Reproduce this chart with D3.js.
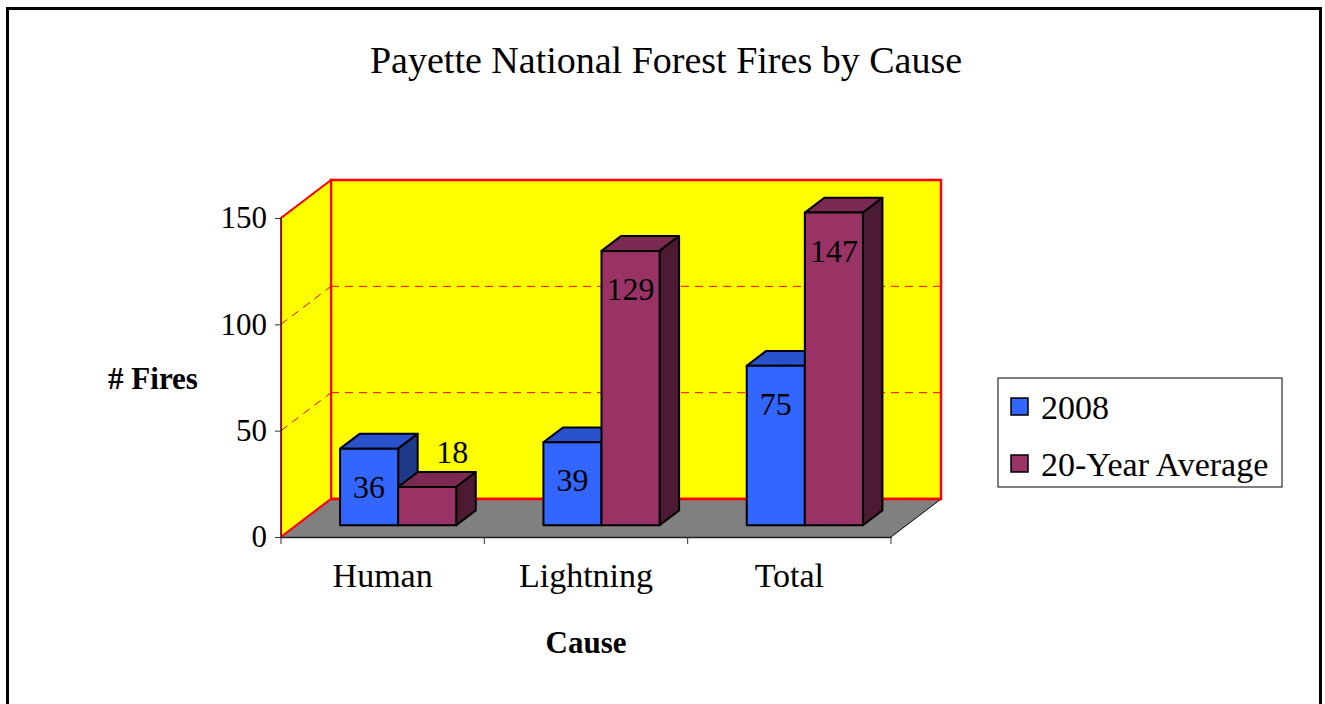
<!DOCTYPE html>
<html>
<head>
<meta charset="utf-8">
<script src="https://cdn.jsdelivr.net/npm/d3@7/dist/d3.min.js"></script>
<style>
  body { margin: 0; background: #fff; }
  text { font-family: "Liberation Serif", "DejaVu Serif", serif; fill: #000; }
</style>
</head>
<body>
<script>
const categories = ["Human", "Lightning", "Total"];
const seriesNames = ["2008", "20-Year Average"];
const values2008 = [36, 39, 75];
const valuesAvg = [18, 129, 147];
const yTicks = [0, 50, 100, 150];

const width = 1325;
const height = 704;

const colors = {
    "2008": { front: "#3366ff", top: "#2952cc", side: "#1f3a88" },
    "20-Year Average": { front: "#993366", top: "#7a2952", side: "#4d1a33" }
};

// depth of the plot box
const depthX = 50, depthY = -38;
const proj = (x, y, d) => [x + depthX * d, y + depthY * d];

const svg = d3.select("body").append("svg")
    .attr("width", width).attr("height", height);

// outer frame
svg.append("rect")
    .attr("x", 7.5).attr("y", 8.5).attr("width", 1313).attr("height", 710)
    .attr("fill", "none").attr("stroke", "#000").attr("stroke-width", 3);

const x = d3.scaleBand().domain(categories).range([281, 891]);
const y = d3.scaleLinear().domain([0, 150]).range([537, 218]);

const barW = x.bandwidth() / 3.5; // gap width 150%
const xs = d3.scaleBand().domain(seriesNames).range([0, 2 * barW]);

const x0 = x.range()[0], x1 = x.range()[1];
const yb = y(0), yt = y(150);
const line = d3.line();

// back wall
svg.append("path")
    .attr("d", line([proj(x0, yb, 1), proj(x1, yb, 1), proj(x1, yt, 1), proj(x0, yt, 1)]) + "Z")
    .attr("fill", "#ffff00").attr("stroke", "#ff0000").attr("stroke-width", 2.5);

// side wall
svg.append("path")
    .attr("d", line([[x0, yb], proj(x0, yb, 1), proj(x0, yt, 1), [x0, yt]]) + "Z")
    .attr("fill", "#ffff00").attr("stroke", "#ff0000").attr("stroke-width", 2);

// floor
svg.append("path")
    .attr("d", line([[x0, yb], [x1, yb], proj(x1, yb, 1), proj(x0, yb, 1)]) + "Z")
    .attr("fill", "#808080");
svg.append("path")
    .attr("d", line([[x1, yb], proj(x1, yb, 1)]))
    .attr("stroke", "#000").attr("stroke-width", 1);
svg.append("path")
    .attr("d", line([proj(x0, yb, 1), proj(x1, yb, 1)]))
    .attr("stroke", "#ff0000").attr("stroke-width", 2.5);
svg.append("path")
    .attr("d", line([[x0, yb], proj(x0, yb, 1)]))
    .attr("stroke", "#ff0000").attr("stroke-width", 2);

// gridlines
const grid = yTicks.filter(t => t > 0 && t < 150);
svg.selectAll(".gback").data(grid).enter().append("path")
    .attr("d", t => line([proj(x0, y(t), 1), proj(x1, y(t), 1)]))
    .attr("stroke", "#ff0000").attr("stroke-width", 1).attr("stroke-dasharray", "8,6");
svg.selectAll(".gside").data(grid).enter().append("path")
    .attr("d", t => line([[x0, y(t)], proj(x0, y(t), 1)]))
    .attr("stroke", "#ff0000").attr("stroke-width", 1).attr("stroke-dasharray", "8,6");

// axes
const yAxis = svg.append("g").attr("transform", `translate(${x0},0)`)
    .call(d3.axisLeft(y).tickValues(yTicks).tickSize(6).tickPadding(8));
yAxis.select(".domain").attr("stroke", "#333").attr("stroke-width", 1.2);
yAxis.selectAll(".tick line").attr("stroke", "#333");
yAxis.selectAll(".tick text")
    .style("font-family", '"Liberation Serif", serif').style("font-size", "31px").attr("fill", "#000");

const xAxis = svg.append("g").attr("transform", `translate(0,${yb})`)
    .call(d3.axisBottom(x).tickSize(0).tickPadding(26));
xAxis.select(".domain").attr("stroke", "#222").attr("stroke-width", 1.5);
xAxis.selectAll(".tick text")
    .style("font-family", '"Liberation Serif", serif').style("font-size", "34px").attr("fill", "#000");
// category boundary ticks
const bounds = categories.map(c => x(c)).concat([x1]);
svg.selectAll(".xtick").data(bounds).enter().append("line")
    .attr("x1", d => d).attr("x2", d => d)
    .attr("y1", yb).attr("y2", yb + 7)
    .attr("stroke", "#333").attr("stroke-width", 1);

// bars
const dFront = 0.31, dBack = 0.7;
const bars = [];
categories.forEach((c, i) => {
    seriesNames.forEach((s, j) => {
        const v = j === 0 ? values2008[i] : valuesAvg[i];
        bars.push({ cat: c, series: s, value: v });
    });
});

const barG = svg.selectAll(".bar").data(bars).enter().append("g");
const bx = d => x(d.cat) + 0.75 * barW + xs(d.series);

barG.append("path") // top
    .attr("d", d => {
        const l = bx(d), r = l + barW, t = y(d.value);
        return line([proj(l, t, dFront), proj(r, t, dFront), proj(r, t, dBack), proj(l, t, dBack)]) + "Z";
    })
    .attr("fill", d => colors[d.series].top)
    .attr("stroke", "#000").attr("stroke-width", 2).attr("stroke-linejoin", "round");
barG.append("path") // side
    .attr("d", d => {
        const r = bx(d) + barW, t = y(d.value);
        return line([proj(r, yb, dFront), proj(r, yb, dBack), proj(r, t, dBack), proj(r, t, dFront)]) + "Z";
    })
    .attr("fill", d => colors[d.series].side)
    .attr("stroke", "#000").attr("stroke-width", 2).attr("stroke-linejoin", "round");
barG.append("path") // front
    .attr("d", d => {
        const l = bx(d), r = l + barW, t = y(d.value);
        return line([proj(l, yb, dFront), proj(r, yb, dFront), proj(r, t, dFront), proj(l, t, dFront)]) + "Z";
    })
    .attr("fill", d => colors[d.series].front)
    .attr("stroke", "#000").attr("stroke-width", 2).attr("stroke-linejoin", "round");

// value labels
svg.selectAll(".vlabel").data(bars).enter().append("text")
    .attr("x", d => {
        const p = proj(bx(d) + barW / 2, y(d.value), dFront);
        return d.value < 30 ? p[0] + 25 : p[0];
    })
    .attr("y", d => {
        const p = proj(bx(d) + barW / 2, y(d.value), dFront);
        return d.value < 30 ? p[1] - 35 : p[1] + 38;
    })
    .attr("text-anchor", "middle").attr("dominant-baseline", "central")
    .style("font-size", "32px")
    .text(d => d.value);

// titles
svg.append("text")
    .attr("x", 666).attr("y", 60)
    .attr("text-anchor", "middle").attr("dominant-baseline", "central")
    .style("font-size", "38px")
    .text("Payette National Forest Fires by Cause");
svg.append("text")
    .attr("x", 153).attr("y", 378)
    .attr("text-anchor", "middle").attr("dominant-baseline", "central")
    .style("font-size", "31px").style("font-weight", "bold")
    .text("# Fires");
svg.append("text")
    .attr("x", 586).attr("y", 642)
    .attr("text-anchor", "middle").attr("dominant-baseline", "central")
    .style("font-size", "31px").style("font-weight", "bold")
    .text("Cause");

// legend
const legend = svg.append("g").attr("transform", "translate(998,378)");
legend.append("rect")
    .attr("width", 284).attr("height", 109)
    .attr("fill", "#fff").attr("stroke", "#000").attr("stroke-width", 1);
const li = legend.selectAll(".li").data(seriesNames).enter().append("g")
    .attr("transform", (d, i) => `translate(13,${20 + i * 57})`);
li.append("rect")
    .attr("width", 17).attr("height", 17)
    .attr("fill", d => colors[d].front).attr("stroke", "#000").attr("stroke-width", 1.5);
li.append("text")
    .attr("x", 30).attr("y", 9)
    .attr("dominant-baseline", "central")
    .style("font-size", "34px")
    .text(d => d);
</script>
</body>
</html>
